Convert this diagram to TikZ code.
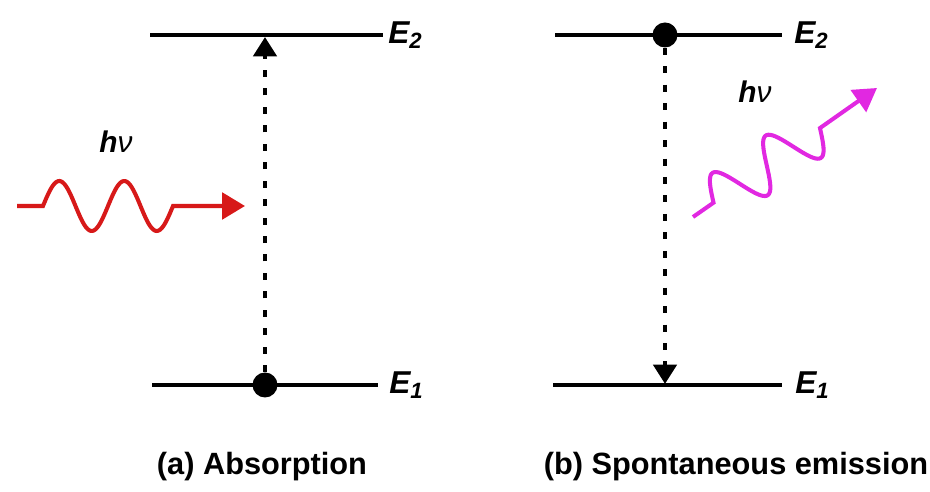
\documentclass[tikz,border=0pt]{standalone}
\usepackage{fontspec}
\setmainfont{Liberation Sans}
\usetikzlibrary{arrows.meta, positioning, calc}
\definecolor{photonred}{RGB}{215, 25, 25}
\definecolor{photonpink}{RGB}{225, 40, 225}

\begin{document}
\begin{tikzpicture}[
  x=0.02cm, y=-0.02cm,
  level/.style     = {line width=2.3pt, draw=black},
  electron/.style  = {circle, fill=black, inner sep=0pt, minimum size=0.5cm},
  levlabel/.style  = {anchor=west, inner sep=0pt,
                      font=\fontsize{18}{20}\selectfont\bfseries\itshape},
  hvlabel/.style   = {inner sep=0pt,
                      font=\fontsize{17}{20}\selectfont\bfseries\itshape},
  trans/.style     = {line width=2.8pt, dash pattern=on 4pt off 6.5pt,
                      -{Triangle[length=11pt, width=13pt]}},
  photon/.style    = {line width=2.3pt, -{Triangle[length=13pt, width=15pt]}},
  caption/.style   = {font=\fontsize{17.5}{20}\selectfont\bfseries},
]
\useasboundingbox (0,0) rectangle (930,492);

%% Energy levels
\foreach \xa/\xb/\y in {150/383/35, 152/378/385, 555/782/35, 553/782/385}
  \draw[level] (\xa,\y) -- (\xb,\y);

%% Level labels
\node[levlabel] (e2a) at (388,35)  {E\textsubscript{2}};
\node[levlabel] (e1a) at (389,385) {E\textsubscript{1}};
\node[levlabel] (e2b) at (794,35)  {E\textsubscript{2}};
\node[levlabel] (e1b) at (795,385) {E\textsubscript{1}};

%% (a) Absorption
\node[electron] (dotA) at (265,385) {};
\coordinate (topA) at (265,37);
\draw[trans] (dotA) -- (topA);

\coordinate (redin)  at (17,206);
\coordinate (redtip) at (245,206);
\draw[photon, photonred] (redin) -- (43,206)
  -- plot[domain=0:130, samples=80, smooth] ({43+\x}, {206-25*sin(5.5385*\x)})
  -- (redtip);
\node[hvlabel] (hva) at (116,142) {h{\mdseries ν}};

%% (b) Spontaneous emission
\node[electron] (dotB) at (665,35) {};
\coordinate (botB) at (665,384);
\draw[trans] (dotB) -- (botB);

\coordinate (pinkin)  at (693,217);
\coordinate (pinktip) at (877,88);
\draw[photon, photonpink] (pinkin) -- (713.5,202.7)
  -- plot[domain=0:130, samples=80, smooth]
     ({713.5+0.819*\x-14.35*sin(5.5385*\x)}, {202.7-0.574*\x-20.475*sin(5.5385*\x)})
  -- (pinktip);
\node[hvlabel] (hvb) at (755,92) {h{\mdseries ν}};

%% Captions
\node[caption] (capA) at (262,467) {(a) Absorption};
\node[caption] (capB) at (736,467) {(b) Spontaneous emission};

\end{tikzpicture}
\end{document}
